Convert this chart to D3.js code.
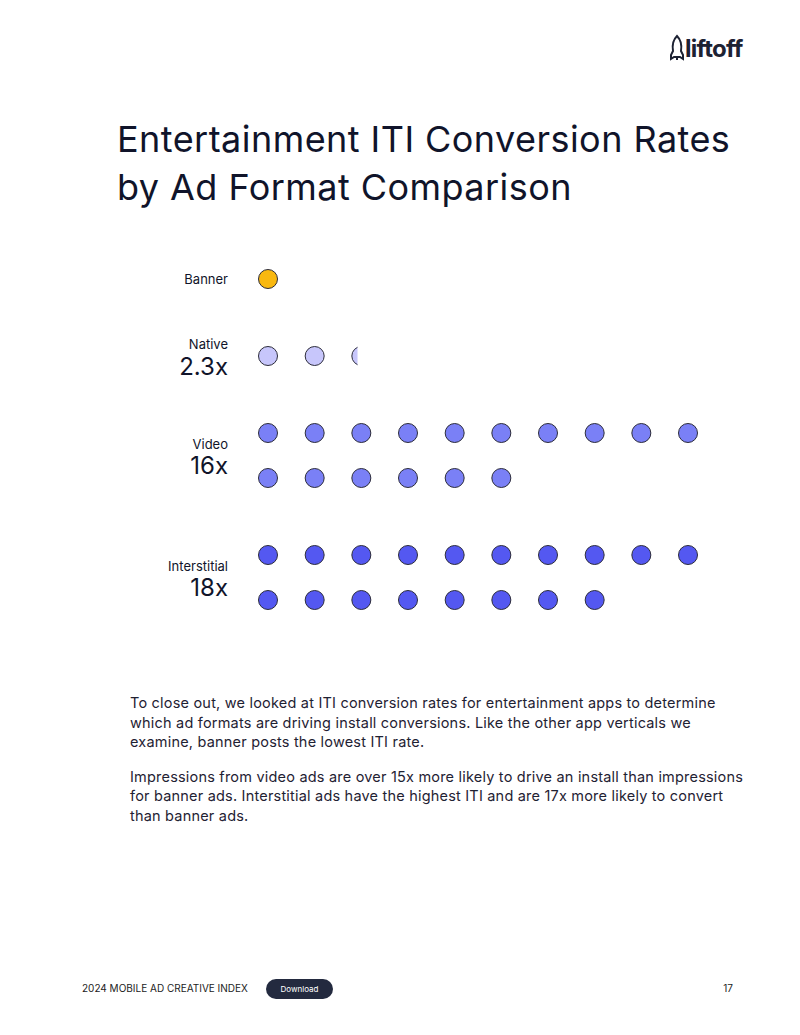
<!DOCTYPE html>
<html>
<head>
<meta charset="utf-8">
<script src="https://cdn.jsdelivr.net/npm/d3@7"></script>
<style>
  body { margin: 0; background: #fff; }
  svg text { font-family: "Inter", "Noto Sans", sans-serif; }
</style>
</head>
<body>
<svg id="page" width="800" height="1035"></svg>
<script>
// chart data
const formats = ['Banner', 'Native', 'Video', 'Interstitial'];
const multipliers = [1, 2.3, 16, 18];
const multLabels = ['', '2.3x', '16x', '18x'];
const colors = ['#f9b80f', '#c7c6fb', '#7a80f6', '#5458f1'];

const paragraphs = [
  ['To close out, we looked at ITI conversion rates for entertainment apps to determine',
   'which ad formats are driving install conversions. Like the other app verticals we',
   'examine, banner posts the lowest ITI rate.'],
  ['Impressions from video ads are over 15x more likely to drive an install than impressions',
   'for banner ads. Interstitial ads have the highest ITI and are 17x more likely to convert',
   'than banner ads.']
];

const perRow = 10;
const r = 9.5;
const rowStep = 45;
const groupGap = 77;

const svg = d3.select('#page');

// logo
const logo = svg.append('g').attr('transform', 'translate(670,36)');
logo.append('path')
  .attr('d', 'M7,0 C11,4 12,9 11,15 L13,19 L13,23 L10,21 L4,21 L1,23 L1,19 L3,15 C2,9 3,4 7,0 Z')
  .attr('fill', 'none').attr('stroke', '#1d2233').attr('stroke-width', 2);
logo.append('line').attr('x1', 7).attr('x2', 7).attr('y1', 20).attr('y2', 24)
  .attr('stroke', '#1d2233').attr('stroke-width', 2);
logo.append('text').attr('x', 15).attr('y', 21)
  .attr('font-size', 24).attr('font-weight', 700).attr('fill', '#1d2233')
  .attr('letter-spacing', -0.8)
  .text('liftoff');

// title
svg.append('text').attr('x', 117).attr('y', 152)
  .attr('font-size', 36).attr('letter-spacing', 0.45).attr('fill', '#10142a')
  .text('Entertainment ITI Conversion Rates');
svg.append('text').attr('x', 117).attr('y', 200)
  .attr('font-size', 36).attr('letter-spacing', 0.45).attr('fill', '#10142a')
  .text('by Ad Format Comparison');

// layout of groups
const groups = formats.map((f, i) => ({
  name: f, value: multipliers[i], label: multLabels[i], color: colors[i],
  rows: Math.ceil(multipliers[i] / perRow)
}));
let yCur = 279;
groups.forEach(g => {
  g.y0 = yCur;
  g.mid = yCur + (g.rows - 1) * rowStep / 2;
  yCur += (g.rows - 1) * rowStep + groupGap;
});

const x = d3.scaleLinear().domain([0, perRow - 1]).range([268, 688]);

const defs = svg.append('defs');
const chart = svg.append('g');

groups.forEach((g, gi) => {
  const n = Math.ceil(g.value);
  const dots = d3.range(n).map(k => ({
    col: k % perRow,
    row: Math.floor(k / perRow),
    frac: Math.min(1, g.value - k)
  }));
  dots.forEach((d, k) => {
    const cx = x(d.col), cy = g.y0 + d.row * rowStep;
    const c = chart.append('circle')
      .attr('cx', cx).attr('cy', cy).attr('r', r)
      .attr('fill', g.color).attr('stroke', '#2c2c3a').attr('stroke-width', 1);
    if (d.frac < 1) {
      const id = 'clip' + gi + '_' + k;
      defs.append('clipPath').attr('id', id).append('rect')
        .attr('x', cx - r - 1).attr('y', cy - r - 2)
        .attr('width', (2 * r) * d.frac + 1).attr('height', 2 * r + 4);
      c.attr('clip-path', `url(#${id})`);
    }
  });

  if (g.label) {
    chart.append('text').attr('x', 228).attr('y', g.mid - 12)
      .attr('text-anchor', 'end').attr('dominant-baseline', 'central')
      .attr('font-size', 13).attr('fill', '#10142a').text(g.name);
    chart.append('text').attr('x', 228).attr('y', g.mid + 10)
      .attr('text-anchor', 'end').attr('dominant-baseline', 'central')
      .attr('font-size', 24).attr('fill', '#10142a').text(g.label);
  } else {
    chart.append('text').attr('x', 228).attr('y', g.mid)
      .attr('text-anchor', 'end').attr('dominant-baseline', 'central')
      .attr('font-size', 13).attr('fill', '#10142a').text(g.name);
  }
});

// body text
let ty = 708;
paragraphs.forEach(p => {
  p.forEach(line => {
    svg.append('text').attr('x', 130).attr('y', ty)
      .attr('font-size', 14.5).attr('letter-spacing', 0.2).attr('fill', '#1f2233').text(line);
    ty += 19.5;
  });
  ty += 15;
});

// footer
svg.append('text').attr('x', 82).attr('y', 992)
  .attr('font-size', 10).attr('fill', '#222').text('2024 MOBILE AD CREATIVE INDEX');
svg.append('rect').attr('x', 266).attr('y', 979).attr('width', 67).attr('height', 20)
  .attr('rx', 10).attr('fill', '#232a3f');
svg.append('text').attr('x', 299.5).attr('y', 992).attr('text-anchor', 'middle')
  .attr('font-size', 8).attr('fill', '#fff').text('Download');
svg.append('text').attr('x', 733).attr('y', 992).attr('text-anchor', 'end')
  .attr('font-size', 10).attr('fill', '#222').text('17');
</script>
</body>
</html>
